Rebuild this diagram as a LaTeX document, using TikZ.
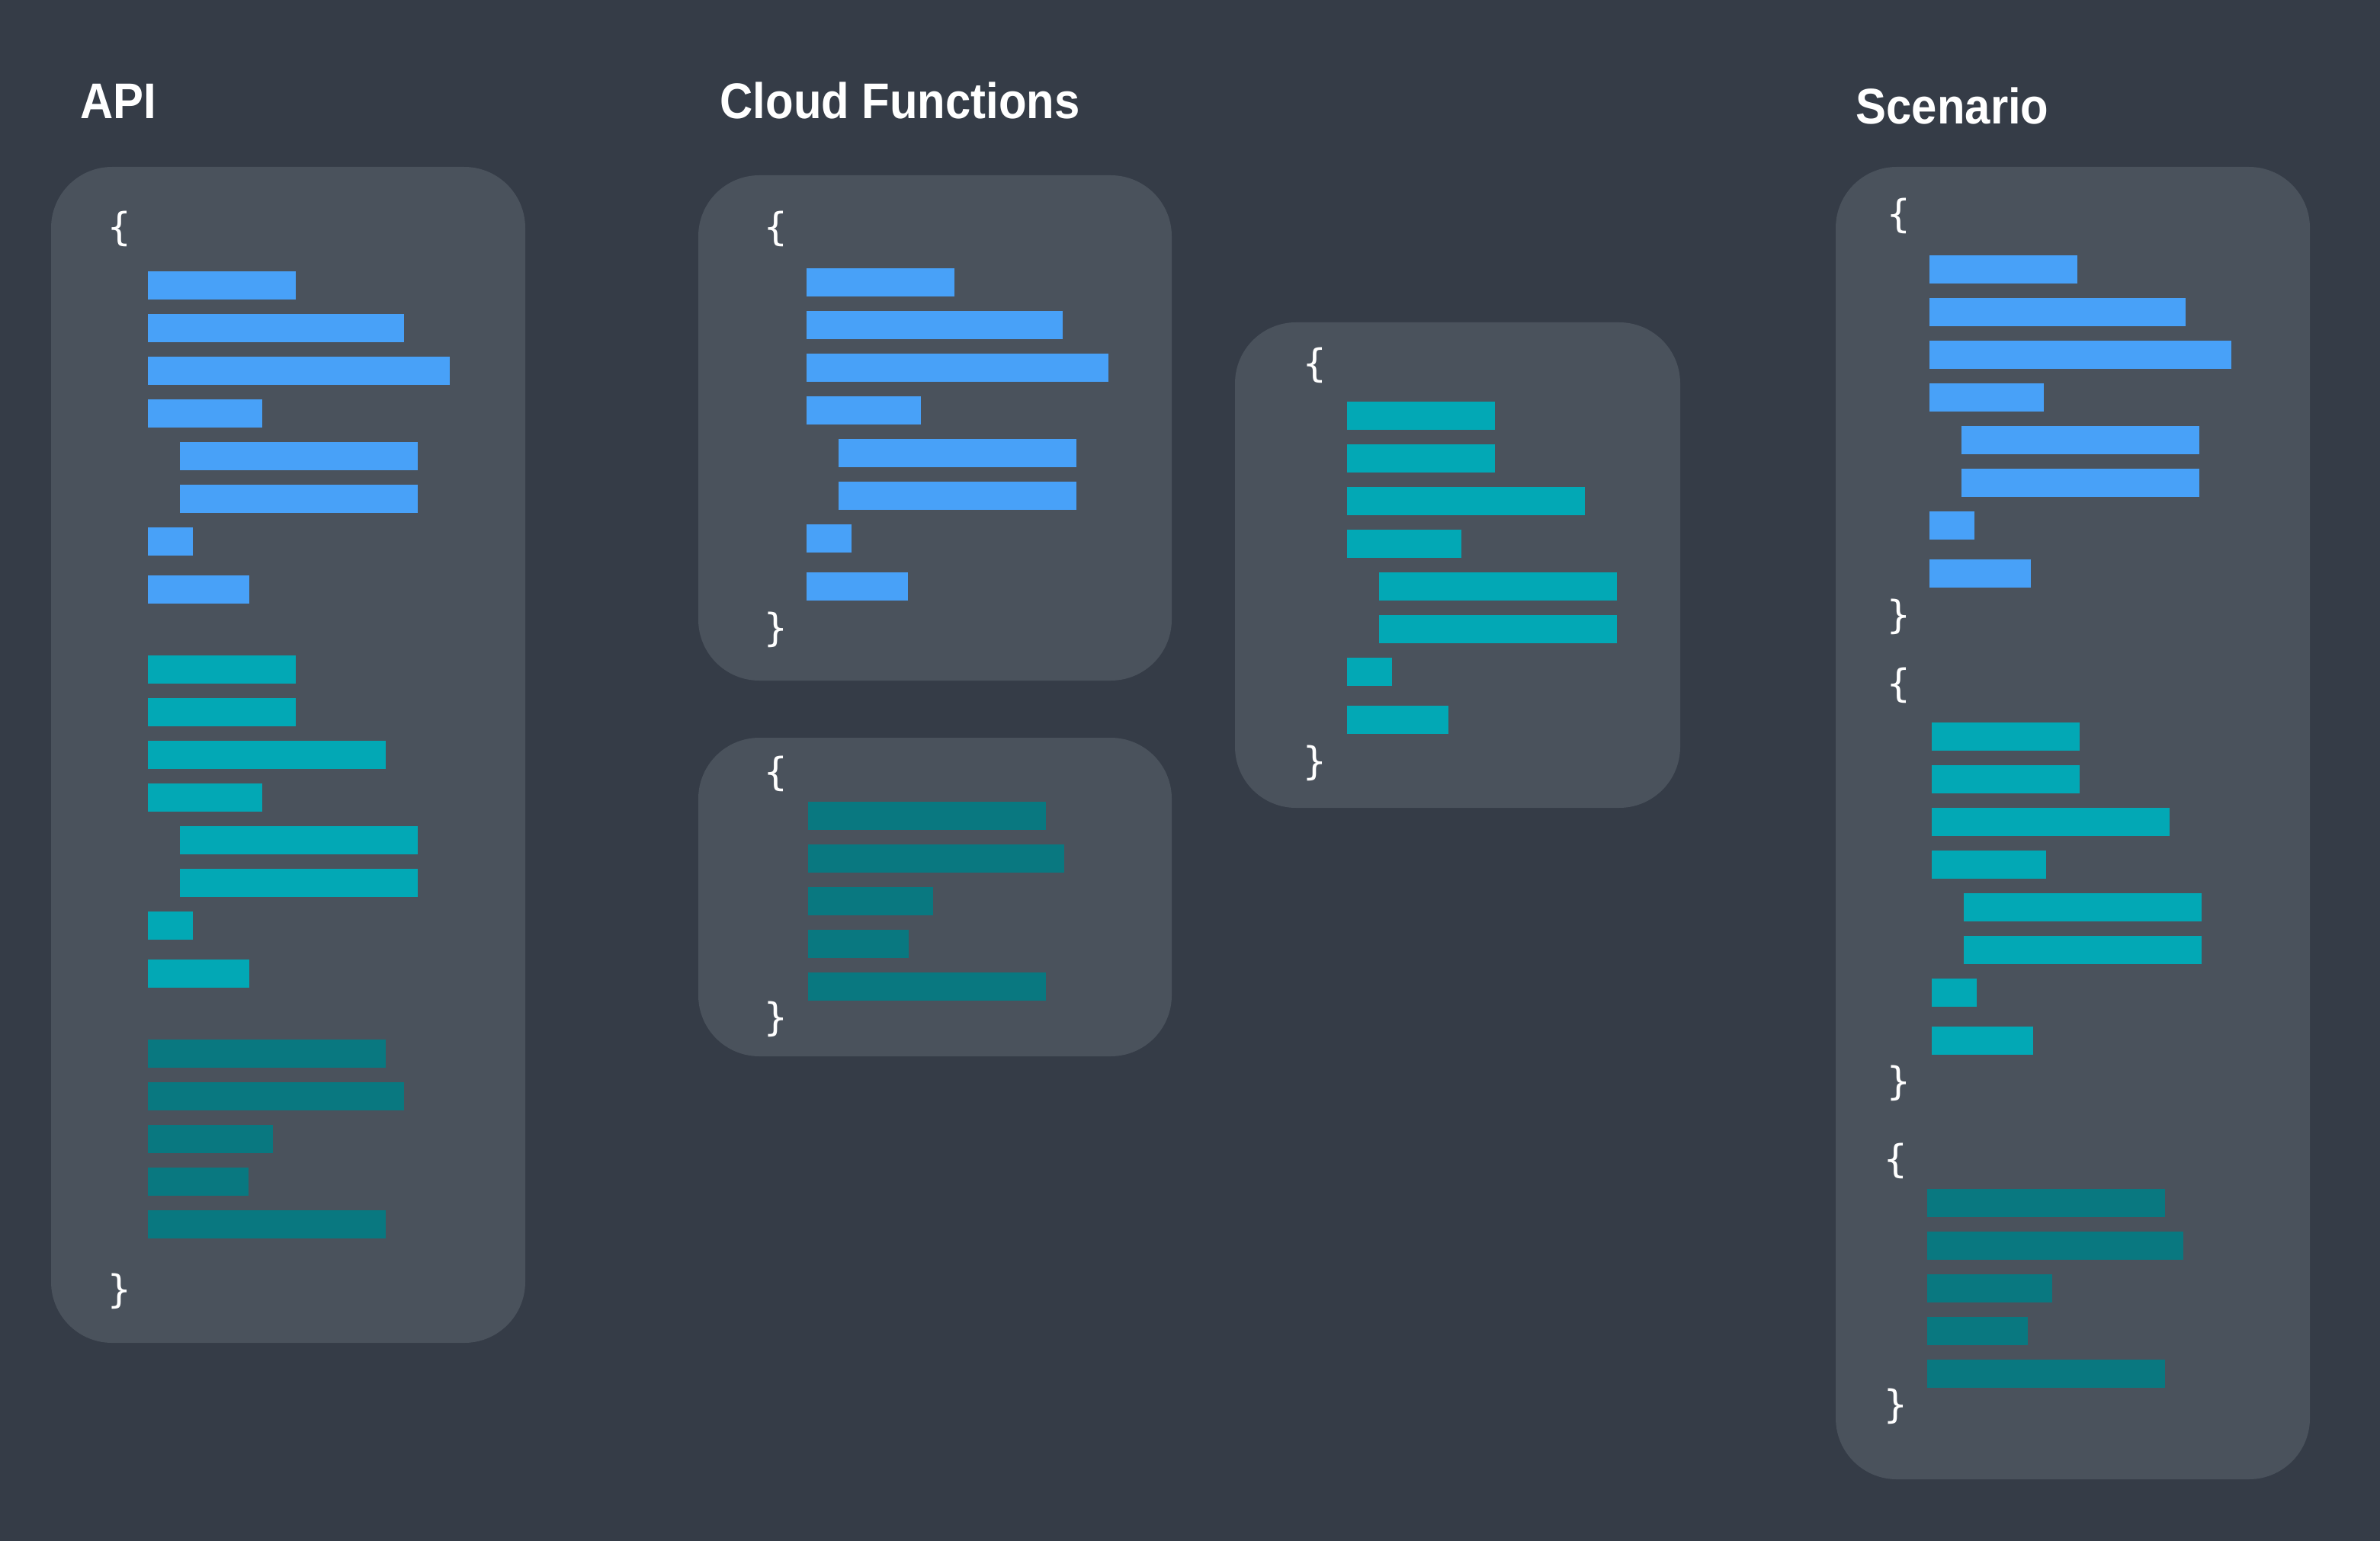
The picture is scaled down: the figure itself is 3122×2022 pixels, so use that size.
\documentclass[tikz,border=0pt]{standalone}
\usepackage{fontspec}
\usepackage{graphicx}
\setmainfont{Liberation Sans}
\newfontfamily\bracefont{DejaVu Sans Mono}

\definecolor{canvas}{RGB}{53,60,71}
\definecolor{panelgray}{RGB}{74,82,92}
\definecolor{codeblue}{RGB}{72,161,248}
\definecolor{codeteal}{RGB}{2,168,181}
\definecolor{codedark}{RGB}{9,120,128}

% one code line: colour, left, top, length (height is fixed)
\newcommand\codeline[4]{\fill[#1] (#2,#3) rectangle ++(#4,37);}

% the nested object block (eight lines, two indented)
\newcommand\objectblock[3]{%
  \begin{scope}[shift={(#2,#3)}]
    \codeline{#1}{0}{0}{194}
    \codeline{#1}{0}{56}{\blockB}
    \codeline{#1}{0}{112}{\blockC}
    \codeline{#1}{0}{168}{150}
    \codeline{#1}{42}{224}{312}
    \codeline{#1}{42}{280}{312}
    \codeline{#1}{0}{336}{59}
    \codeline{#1}{0}{399}{133}
  \end{scope}}

% the flat block (five lines)
\newcommand\flatblock[2]{%
  \begin{scope}[shift={(#1,#2)}]
    \codeline{codedark}{0}{0}{312}
    \codeline{codedark}{0}{56}{336}
    \codeline{codedark}{0}{112}{164}
    \codeline{codedark}{0}{168}{132}
    \codeline{codedark}{0}{224}{312}
  \end{scope}}

\newcommand\blueblock[2]{\def\blockB{336}\def\blockC{396}\objectblock{codeblue}{#1}{#2}}
\newcommand\tealblock[2]{\def\blockB{194}\def\blockC{312}\objectblock{codeteal}{#1}{#2}}

\begin{document}
\begin{tikzpicture}[x=0.01cm,y=-0.01cm,
  panel/.style={fill=panelgray, rounded corners=0.8cm},
  heading/.style={anchor=base west, inner sep=0pt, text=white,
    font=\fontsize{18.7}{22}\selectfont\bfseries},
  curly/.style={inner sep=0pt, text=white,
    font=\bracefont\fontsize{14.4}{16}\selectfont}]

% canvas
\fill[canvas] (0,0) rectangle (3122,2022);
\useasboundingbox (0,0) rectangle (3122,2022);

% headings
\node[heading] (apiTitle)   at (105,156)  {\scalebox{0.91}[1]{API}};
\node[heading] (cloudTitle) at (944,156)  {\scalebox{0.91}[1]{Cloud Functions}};
\node[heading] (scenTitle)  at (2434,163) {\scalebox{0.91}[1]{Scenario}};

% panels
\fill[panel] (67,219)   rectangle (689,1762);
\fill[panel] (916,230)  rectangle (1537,893);
\fill[panel] (916,968)  rectangle (1537,1386);
\fill[panel] (1620,423) rectangle (2204,1060);
\fill[panel] (2408,219) rectangle (3030,1941);

% API panel
\node[curly] (apiOpen)  at (156.5,300.5)  {\{};
\blueblock{194}{356}
\tealblock{194}{860}
\flatblock{194}{1364}
\node[curly] (apiClose) at (156.5,1694.5) {\}};

% Cloud Functions panels
\node[curly] (cfOpenA)  at (1018,300.5) {\{};
\blueblock{1058}{352}
\node[curly] (cfCloseA) at (1018,826)   {\}};

\node[curly] (cfOpenB)  at (1018,1015)  {\{};
\flatblock{1060}{1052}
\node[curly] (cfCloseB) at (1018,1337)  {\}};

% middle panel
\node[curly] (midOpen)  at (1724.5,479)  {\{};
\tealblock{1767}{527}
\node[curly] (midClose) at (1724.5,1001) {\}};

% Scenario panel
\node[curly] (scOpenA)  at (2490.5,283.5)  {\{};
\blueblock{2531}{335}
\node[curly] (scCloseA) at (2490.5,809)    {\}};
\node[curly] (scOpenB)  at (2490.5,899)    {\{};
\tealblock{2534}{948}
\node[curly] (scCloseB) at (2490.5,1421.5) {\}};
\node[curly] (scOpenC)  at (2486.5,1523.5) {\{};
\flatblock{2528}{1560}
\node[curly] (scCloseC) at (2486.5,1845.5) {\}};

\end{tikzpicture}
\end{document}
